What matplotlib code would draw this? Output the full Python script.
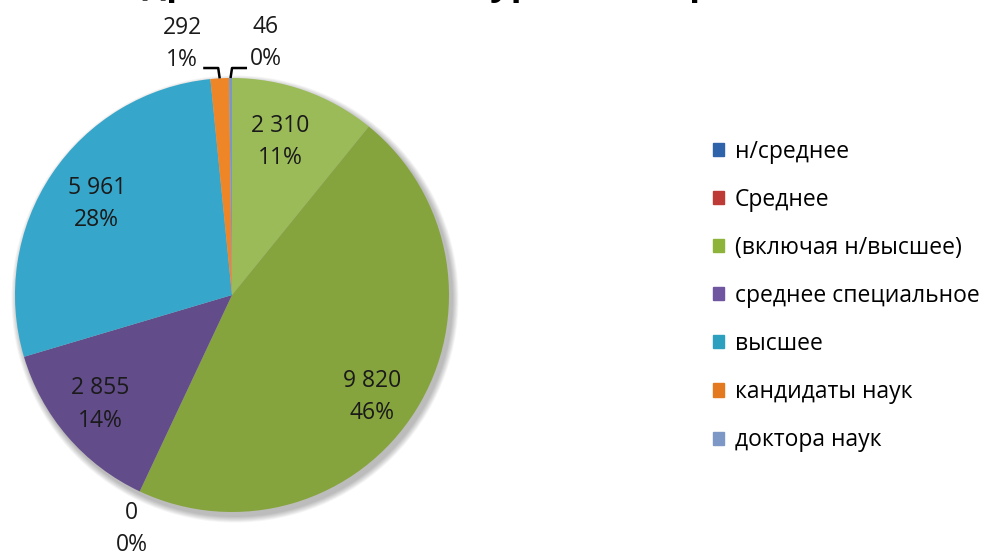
import numpy as np
import matplotlib
matplotlib.use("Agg")
import matplotlib.pyplot as plt
from matplotlib.patches import Patch, Circle

plt.rcParams['font.family'] = ['Open Sans', 'DejaVu Sans']

# ---- data ----
title = "Кадровый состав по уровню образования"
categories = ["н/среднее", "Среднее", "(включая н/высшее)", "среднее специальное",
              "высшее", "кандидаты наук", "доктора наук"]
values = [2310, 9820, 0, 2855, 5961, 292, 46]
percent_labels = ["11%", "46%", "0%", "14%", "28%", "1%", "0%"]

# ---- style ----
slice_colors = ["#9BBB59", "#86A43E", "#86A43E", "#624C89", "#36A6CA", "#EE8527", "#7B97C4"]
legend_colors = ["#2F63AA", "#BE3A36", "#8DB33A", "#7056A0", "#2DA0C0", "#E47A20", "#7D98C6"]
label_radius = [0.74, 0.80, 1.175, 0.79, 0.75, 1.18, 1.17]
label_shift = [2, -4, 2, -1, 0, 8, -8]

W, H = 988, 558
fig = plt.figure(figsize=(W / 100, H / 100), dpi=100)
ax = fig.add_axes([0, 0, 1, 1])
cx, cy, R = 232, 263, 217

# soft shadow
for k in range(8):
    ax.add_patch(Circle((cx + 3, cy - 4), R + 1 + k * 0.8, facecolor="black",
                        alpha=0.035, edgecolor="none", zorder=0))

wedges, _ = ax.pie(values, colors=slice_colors, startangle=90, counterclock=False,
                   center=(cx, cy), radius=R,
                   wedgeprops=dict(edgecolor="none", linewidth=0), normalize=True)
for w in wedges:
    w.set_zorder(2)

ax.set_xlim(0, W)
ax.set_ylim(0, H)
ax.set_aspect("equal")
ax.axis("off")

for i, w in enumerate(wedges):
    mid = np.deg2rad((w.theta1 + w.theta2) / 2)
    ang = mid + np.deg2rad(label_shift[i])
    r = label_radius[i] * R
    tx, ty = cx + r * np.cos(ang), cy + r * np.sin(ang)
    txt = f"{values[i]:,}".replace(",", " ") + "\n" + percent_labels[i]
    ax.text(tx, ty, txt, ha="center", va="center", fontsize=16.5, color="#1a1a1a",
            linespacing=1.45, zorder=5)
    if label_radius[i] > 1.1 and np.sin(mid) > 0:
        # leader line for small top slices
        ex, ey = cx + R * np.cos(mid), cy + R * np.sin(mid)
        ky = cy + 1.046 * R
        direction = -1 if np.cos(ang) < np.cos(mid) else 1
        kx = ex + direction * 1.5
        ax.plot([ex, kx, kx + direction * 15], [ey, ky, ky], color="black",
                lw=1.8, zorder=4, solid_capstyle="butt")

fig.text(0.5, 1.0105, title, ha="center", va="baseline", fontsize=26,
         fontweight="bold", color="black")

handles = [Patch(facecolor=c, edgecolor=c) for c in legend_colors]
fig.legend(handles, categories, loc="center left", bbox_to_anchor=(713 / W, 1 - 296 / H),
           bbox_transform=fig.transFigure, frameon=False, fontsize=16.5,
           handlelength=0.5, handleheight=0.5, handletextpad=0.45,
           labelspacing=1.05, borderpad=0, borderaxespad=0)

fig.savefig("out.png", dpi=100)
